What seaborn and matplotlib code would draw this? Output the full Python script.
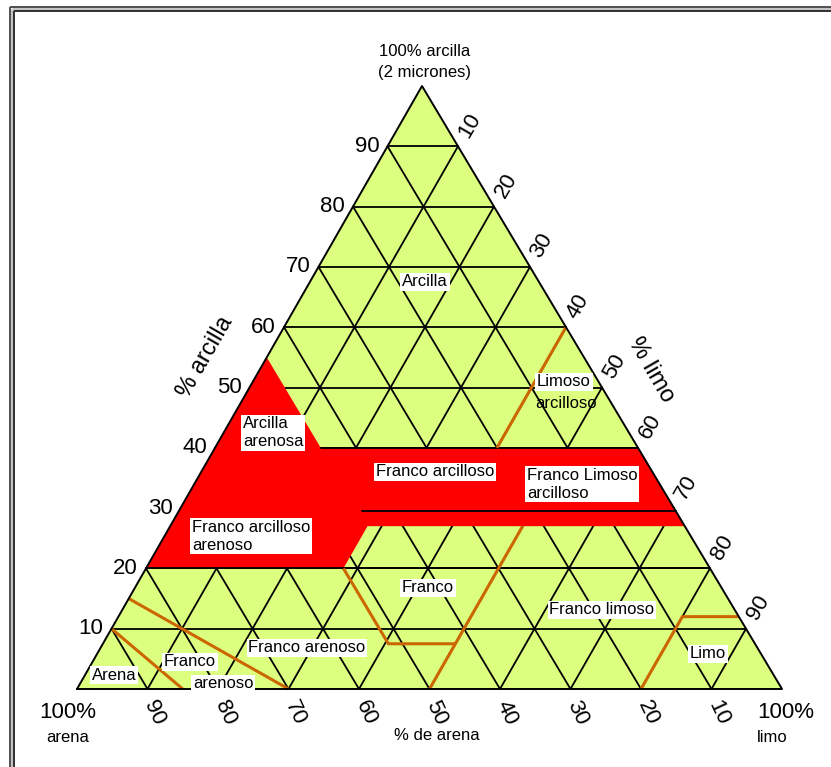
import matplotlib
matplotlib.use("Agg")
import numpy as np
import matplotlib.pyplot as plt
from matplotlib.patches import Polygon
from matplotlib import font_manager
import seaborn as sns


# triangle corners in picture pixels: 100% arena, 100% limo, 100% arcilla
corner_sand = (77, 689)
corner_silt = (782, 689)
corner_clay = (422, 86)

grid_levels = [10, 20, 30, 40, 50, 60, 70, 80, 90]

# red zone (clay %, silt %)
red_clay = [55, 40, 40, 27, 27, 20, 20]
red_silt = [0, 15, 60, 73, 28, 28, 0]

# extra black lines inside / on the red zone
black_lines = {
	"top": ([40, 40], [15, 60]),
	"mid": ([29.5, 29.5], [26, 70.5]),
	"c20": ([20, 20], [0, 80]),
}

# texture boundaries drawn in orange (clay %, silt %)
boundaries = {
	"arena": ([10, 0], [0, 15]),
	"arena_franca": ([15, 0], [0, 30]),
	"franco": ([20, 7.5, 7.5], [28, 40.5, 50]),
	"franco_limoso": ([0, 27], [50, 50]),
	"limo": ([0, 12, 12], [80, 80, 88]),
	"arcilla_limosa": ([40, 60], [40, 40]),
}

# texture labels: text, x, y, alignment, white box
texture_labels = [
	("Arcilla", 425, 282, "center", True),
	("Limoso", 564, 382, "center", True),
	("arcilloso", 566, 403, "center", False),
	("Arcilla\narenosa", 243, 433, "left", True),
	("Franco arcilloso", 435, 472, "center", True),
	("Franco Limoso\narcilloso", 527, 484, "left", True),
	("Franco arcilloso\narenoso", 192, 536, "left", True),
	("Franco", 428, 588, "center", True),
	("Franco limoso", 602, 610, "center", True),
	("Franco arenoso", 307, 648, "center", True),
	("Limo", 708, 654, "center", True),
	("Arena", 114, 675, "center", True),
	("Franco", 190, 662, "center", True),
	("arenoso", 223, 684, "center", True),
]


def to_xy(clay, silt):
	clay = np.asarray(clay, dtype=float) / 100
	silt = np.asarray(silt, dtype=float) / 100
	x = corner_sand[0] + silt * (corner_silt[0] - corner_sand[0]) + clay * (corner_clay[0] - corner_sand[0])
	y = corner_sand[1] + silt * (corner_silt[1] - corner_sand[1]) + clay * (corner_clay[1] - corner_sand[1])
	return x, y


sns.set_theme(style="white")
names = {f.name for f in font_manager.fontManager.ttflist}
family = "Liberation Sans" if "Liberation Sans" in names else "DejaVu Sans"
plt.rcParams["font.family"] = [family, "DejaVu Sans"]
plt.rcParams["text.color"] = "black"

GREEN = "#dcff80"
ORANGE = "#cc6600"
RED = "#ff0000"

fig = plt.figure(figsize=(8.31, 7.67), dpi=100)
fig.patch.set_facecolor("white")
ax = fig.add_axes([0, 0, 1, 1])
ax.set_xlim(0, 831)
ax.set_ylim(767, 0)
ax.axis("off")

# frame (double line on the left and top)
for pos, col, lw in [(9.5, "#505050", 1.4), (11.5, "#c0c0c0", 2.0), (13.5, "#303030", 1.4)]:
	ax.plot([pos, pos], [pos - 3, 767], color=col, lw=lw, solid_capstyle="butt")
	ax.plot([pos, 831], [pos - 3, pos - 3], color=col, lw=lw, solid_capstyle="butt")

# triangle fill
tx, ty = to_xy([0, 0, 100], [0, 100, 0])
ax.add_patch(Polygon(np.column_stack([tx, ty]), closed=True, facecolor=GREEN, edgecolor="none", zorder=1))

# grid
for g in grid_levels:
	x, y = to_xy([g, g], [0, 100 - g])
	ax.plot(x, y, color="black", lw=1.3, zorder=2)
	x, y = to_xy([0, 100 - g], [g, g])
	ax.plot(x, y, color="black", lw=1.3, zorder=2)
	x, y = to_xy([0, 100 - g], [100 - g, 0])
	ax.plot(x, y, color="black", lw=1.3, zorder=2)

# red zone
rx, ry = to_xy(red_clay, red_silt)
ax.add_patch(Polygon(np.column_stack([rx, ry]), closed=True, facecolor=RED, edgecolor="none", zorder=3))

for c, s in black_lines.values():
	x, y = to_xy(c, s)
	ax.plot(x, y, color="black", lw=1.3, zorder=4)

for c, s in boundaries.values():
	x, y = to_xy(c, s)
	ax.plot(x, y, color=ORANGE, lw=2.2, zorder=5, solid_capstyle="butt")

# outline
ax.plot(np.append(tx, tx[0]), np.append(ty, ty[0]), color="black", lw=1.4, zorder=6)

# texture names
for txt, x, y, ha, box in texture_labels:
	kw = {}
	if box:
		kw["bbox"] = dict(facecolor="white", edgecolor="none", pad=1.2)
	ax.text(x, y, txt, ha=ha, va="center", fontsize=12, color="black",
		linespacing=1.25, zorder=7, **kw)

# clay ticks (left side)
for g in grid_levels:
	x, y = to_xy(g, 0)
	ax.text(x - 8, y, str(g), ha="right", va="center", fontsize=16, zorder=7)

# silt ticks (right side)
for g in grid_levels:
	x, y = to_xy(100 - g, g)
	ax.text(x + 12, y - 21, str(g), ha="center", va="center", fontsize=16, rotation=60,
		rotation_mode="anchor", zorder=7)

# sand ticks (bottom)
for g in grid_levels:
	x, y = to_xy(0, 100 - g)
	ax.text(x + 7, y + 24, str(g), ha="center", va="center", fontsize=16, rotation=-65,
		rotation_mode="anchor", zorder=7)

ax.text(425, 52, "100% arcilla", ha="center", va="center", fontsize=12)
ax.text(425, 72, "(2 micrones)", ha="center", va="center", fontsize=12)
ax.text(68, 712, "100%", ha="center", va="center", fontsize=16)
ax.text(68, 738, "arena", ha="center", va="center", fontsize=12)
ax.text(786, 712, "100%", ha="center", va="center", fontsize=16)
ax.text(772, 738, "limo", ha="center", va="center", fontsize=12)
ax.text(437, 736, "% de arena", ha="center", va="center", fontsize=12)
ax.text(205, 357, "% arcilla", ha="center", va="center", fontsize=17, rotation=60,
	rotation_mode="anchor")
ax.text(651, 370, "% limo", ha="center", va="center", fontsize=17, rotation=-60,
	rotation_mode="anchor")

fig.savefig("out.png", dpi=100, facecolor="white")
plt.close(fig)
